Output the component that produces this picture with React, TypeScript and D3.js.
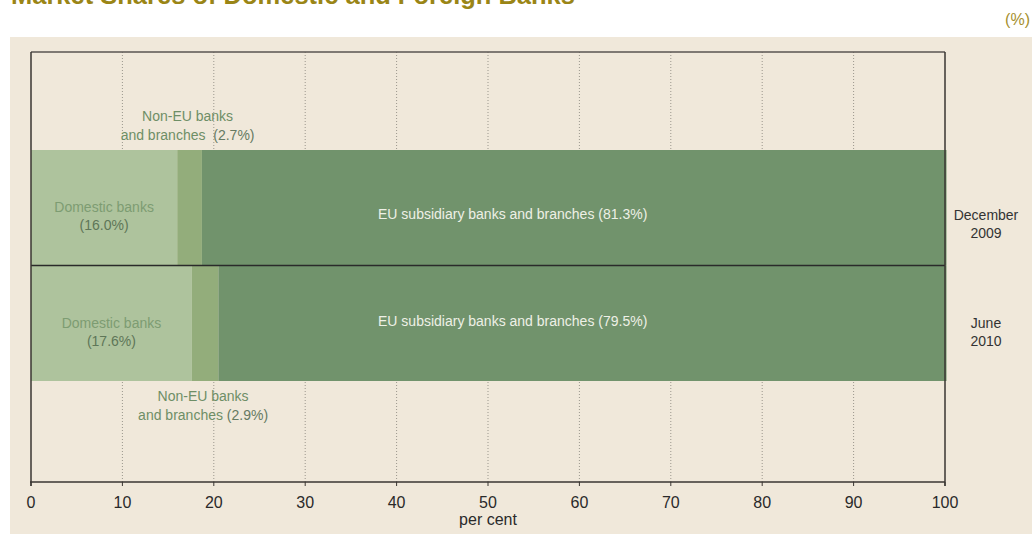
import React from "react";
import * as d3 from "d3";

// Market shares (%) by ownership group
const periods = ["December 2009", "June 2010"];
const periodLines = [["December", "2009"], ["June", "2010"]];
const domestic = [16.0, 17.6];
const nonEU = [2.7, 2.9];
const euSubs = [81.3, 79.5];
const xTicks = [0, 10, 20, 30, 40, 50, 60, 70, 80, 90, 100];

const W = 1032;
const H = 535;
const FONT = "'Liberation Sans', Arial, Helvetica, sans-serif";

export default function App() {
  const x = d3.scaleLinear().domain([0, 100]).range([31, 945]);
  const y = d3.scaleBand().domain(periods).range([150, 381]).paddingInner(0).paddingOuter(0);
  const plotTop = 52;
  const axisY = 482;

  const series = [
    { key: "domestic", values: domestic, color: "#aec39d" },
    { key: "nonEU", values: nonEU, color: "#93ad7b" },
    { key: "eu", values: euSubs, color: "#71936c" },
  ];

  const stacks = periods.map((p, i) => {
    let acc = 0;
    return series.map((s) => {
      const v = s.values[i];
      const seg = { key: s.key, x0: acc, x1: acc + v, color: s.color, v };
      acc += v;
      return seg;
    });
  });

  const bw = y.bandwidth();
  const periodBase = [[220, 238], [328, 346]];

  return (
    <div style={{ position: "absolute", left: 0, top: 0 }}>
      <svg width={W} height={H} style={{ display: "block" }} fontFamily={FONT}>
        <rect x={0} y={0} width={W} height={H} fill="#ffffff" />
        <text x={11} y={4} fontSize={25.5} fontWeight={600} fill="#9a8516">
          Market Shares of Domestic and Foreign Banks
        </text>
        <text x={1030} y={25} fontSize={16} fill="#a58f2e" textAnchor="end">
          (%)
        </text>
        <rect x={10} y={37} width={W - 10} height={497} fill="#f0e8da" />

        {/* vertical dotted gridlines */}
        {xTicks.slice(1, -1).map((t) => (
          <line key={t} x1={x(t)} x2={x(t)} y1={plotTop} y2={axisY}
            stroke="#9a968c" strokeWidth={1} strokeDasharray="1,2" />
        ))}

        {/* stacked bars */}
        {stacks.map((segs, i) =>
          segs.map((s) => (
            <rect key={periods[i] + s.key} x={x(s.x0)} y={y(periods[i])!}
              width={x(s.x1) - x(s.x0) + (s.key === "eu" ? 1.5 : 0)} height={bw} fill={s.color} />
          ))
        )}

        {/* separator between periods */}
        <line x1={x(0)} x2={x(100)} y1={y(periods[1])!} y2={y(periods[1])!} stroke="#2a2a2a" strokeWidth={1.5} />

        {/* frame */}
        <line x1={x(0)} x2={x(100)} y1={plotTop} y2={plotTop} stroke="#5a5550" strokeWidth={1.5} />
        <line x1={x(0)} x2={x(0)} y1={plotTop} y2={axisY + 4} stroke="#3a3632" strokeWidth={1.5} />
        <line x1={x(100)} x2={x(100)} y1={plotTop} y2={axisY + 4} stroke="#3a3632" strokeWidth={1.5} />
        <line x1={x(0) - 1} x2={x(100)} y1={axisY} y2={axisY} stroke="#3a3632" strokeWidth={1.5} />
        {xTicks.map((t) => (
          <g key={t}>
            <line x1={x(t)} x2={x(t)} y1={axisY} y2={axisY + 4} stroke="#3a3632" strokeWidth={1} />
            <text x={x(t)} y={508} fontSize={16} fill="#2a2a2a" textAnchor="middle">{t}</text>
          </g>
        ))}
        <text x={x(50)} y={525} fontSize={16} fill="#2a2a2a" textAnchor="middle">per cent</text>

        {/* period labels */}
        {periodLines.map((lines, i) => (
          <text key={i} x={986} fontSize={14} fill="#333" textAnchor="middle">
            <tspan x={986} y={periodBase[i][0]}>{lines[0]}</tspan>
            <tspan x={986} y={periodBase[i][1]}>{lines[1]}</tspan>
          </text>
        ))}

        {/* segment labels */}
        {stacks.map((segs, i) => {
          const top = y(periods[i])!;
          const dom = segs[0];
          const ne = segs[1];
          const eu = segs[2];
          const dx = x((dom.x0 + dom.x1) / 2);
          const nx = x((ne.x0 + ne.x1) / 2) - 2;
          const neBase = i === 0 ? top - 29 : top + bw + 20;
          return (
            <g key={i} fontSize={14} textAnchor="middle">
              <text x={dx} y={top + 62} fill="#7d9c72">Domestic banks</text>
              <text x={dx} y={top + 80} fill="#5e7658">({dom.v.toFixed(1)}%)</text>
              <text x={nx} y={neBase} fill="#6e8e66">Non-EU banks</text>
              <text x={nx} y={neBase + 19} fill="#6e8e66">
                and branches {i === 0 ? "\u00a0" : ""}<tspan fill="#667a62">({ne.v.toFixed(1)}%)</tspan>
              </text>
              <text x={x(52.7)} y={top + (i === 0 ? 69 : 60)} fill="#eef0e6">
                EU subsidiary banks and branches ({eu.v.toFixed(1)}%)
              </text>
            </g>
          );
        })}
      </svg>
    </div>
  );
}
